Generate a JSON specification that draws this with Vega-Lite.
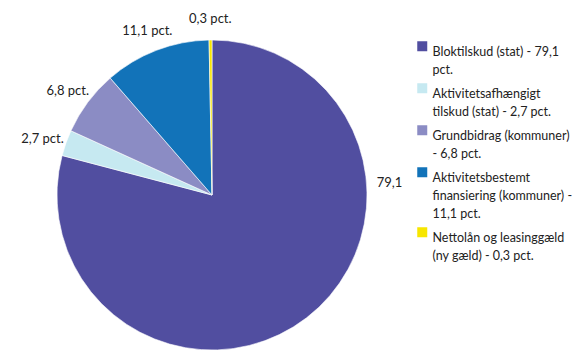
{
  "$schema": "https://vega.github.io/schema/vega-lite/v6.json",
  "width": 310,
  "height": 310,
  "autosize": {"type": "none"},
  "padding": {"left": 57, "top": 40, "right": 211, "bottom": 0},
  "background": "white",
  "config": {"view": {"stroke": null}, "font": "Lato", "style": {"guide-label": {"lineHeight": 18}}},
  "data": {
    "values": [
      {"kategori": "Bloktilskud (stat) - 79,1|pct.", "andel": 79.1, "label": "79,1", "orden": 1},
      {"kategori": "Aktivitetsafhængigt|tilskud (stat) - 2,7 pct.", "andel": 2.7, "label": "2,7 pct.", "orden": 2},
      {"kategori": "Grundbidrag (kommuner)|- 6,8 pct.", "andel": 6.8, "label": "6,8 pct.", "orden": 3},
      {"kategori": "Aktivitetsbestemt|finansiering (kommuner) -|11,1 pct.", "andel": 11.1, "label": "11,1 pct.", "orden": 4},
      {"kategori": "Nettolån og leasinggæld|(ny gæld) - 0,3 pct.", "andel": 0.3, "label": "0,3 pct.", "orden": 5}
    ]
  },
  "encoding": {
    "theta": {"field": "andel", "type": "quantitative", "stack": true},
    "order": {"field": "orden", "type": "quantitative"}
  },
  "layer": [
    {
      "mark": {"type": "arc", "outerRadius": 155, "stroke": "#ffffff", "strokeWidth": 0.6},
      "encoding": {
        "color": {
          "field": "kategori",
          "type": "nominal",
          "sort": null,
          "scale": {
            "domain": [
              "Bloktilskud (stat) - 79,1|pct.",
              "Aktivitetsafhængigt|tilskud (stat) - 2,7 pct.",
              "Grundbidrag (kommuner)|- 6,8 pct.",
              "Aktivitetsbestemt|finansiering (kommuner) -|11,1 pct.",
              "Nettolån og leasinggæld|(ny gæld) - 0,3 pct."
            ],
            "range": ["#514ea0", "#c6e9f1", "#8b8cc4", "#1273b9", "#f7e600"]
          },
          "legend": {
            "title": null,
            "orient": "none",
            "legendX": 359,
            "legendY": 0,
            "symbolType": "square",
            "symbolSize": 100,
            "symbolStrokeWidth": 0,
            "symbolOffset": 0,
            "labelExpr": "split(datum.label, '|')",
            "labelFont": "Lato",
            "labelFontSize": 12.5,
            "labelColor": "#222222",
            "labelLimit": 300,
            "labelOffset": 4,
            "labelBaseline": "top",
            "rowPadding": 5,
            "encode": {
              "labels": {"enter": {"lineHeight": {"value": 18}}, "update": {"lineHeight": {"value": 18}}},
              "symbols": {"update": {"y": {"value": 6}}}
            }
          }
        }
      }
    },
    {
      "mark": {"type": "text", "radius": 180, "dy": 4, "font": "Lato", "fontSize": 13, "color": "#222222"},
      "encoding": {
        "text": {"condition": {"test": "datum.andel > 50", "value": ""}, "field": "label"}
      }
    },
    {
      "mark": {"type": "text", "radius": 178, "thetaOffset": -0.984, "font": "Lato", "fontSize": 13, "color": "#222222"},
      "encoding": {
        "text": {"condition": {"test": "datum.andel < 50", "value": ""}, "field": "label"}
      }
    }
  ]
}
